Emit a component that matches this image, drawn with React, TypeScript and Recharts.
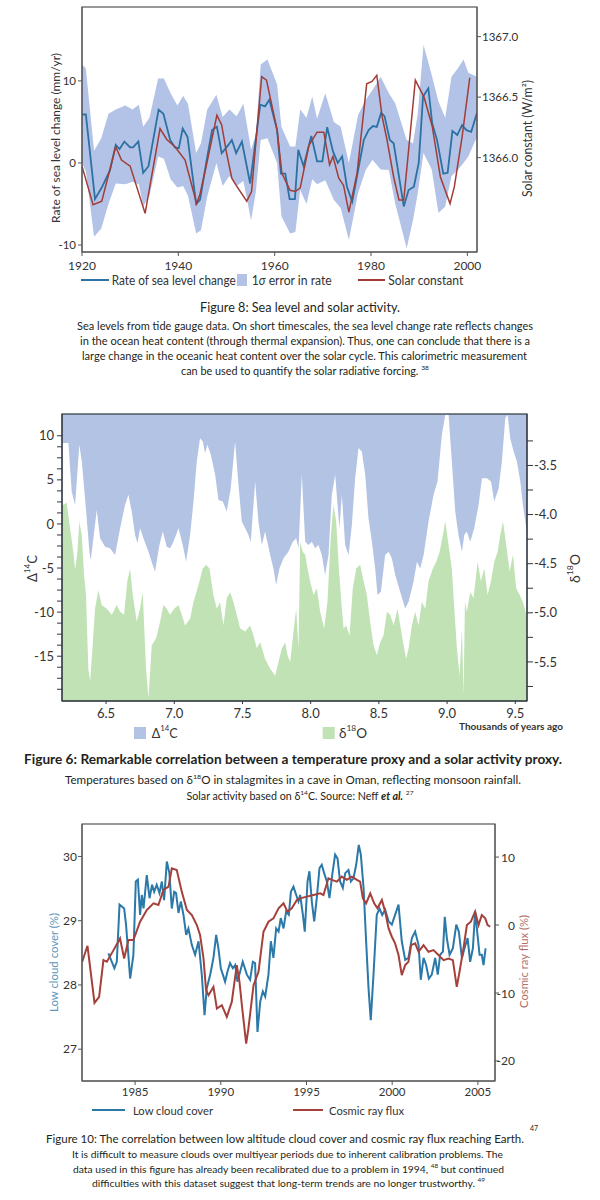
import React from 'react';
import { ComposedChart, Line, Area, XAxis, YAxis } from 'recharts';

const FONT = 'Lato, "Open Sans", "DejaVu Sans", sans-serif';
const INK = '#231f20';
const AX = '#333333';

// ---------------- Figure 8: sea level and solar activity ----------------
const seaYears = [1920,1920.8,1922.7,1924.1,1925.8,1927,1927.8,1928.8,1930,1930.6,1931.7,1932.7,1933.8,1935.9,1936.9,1938.3,1939.3,1940.1,1940.9,1941.9,1943.7,1944.5,1945.9,1947,1948,1949,1950.4,1951.1,1952,1953.2,1954.9,1957,1958,1958.9,1960.5,1961.3,1962.2,1963.1,1964.2,1964.9,1966,1967.6,1968.8,1969.9,1970.9,1972.1,1973.1,1974,1975,1976.1,1978.5,1979.5,1980.4,1981.2,1982.1,1982.8,1983.9,1984.7,1986.8,1987.8,1988.9,1989.9,1990.8,1991.9,1992.7,1993.7,1995,1995.9,1996.9,1997.9,1998.9,1999.8,2000.8,2002];
const seaRate = [5.9,5.9,-4.4,-3.0,-0.9,2.2,1.7,2.6,1.9,1.9,2.6,-1.2,-0.4,6.5,6.0,2.8,1.9,1.8,4.2,3.2,-5.0,-4.5,0.4,4.0,4.4,1.2,2.2,2.8,1.2,2.6,-2.5,7.1,6.9,7.7,4.0,-1.3,-1.3,-4.4,-4.4,1.6,-0.4,3.3,0.2,0.2,4.35,1.4,0,0.8,-2.9,-4.7,2.8,4.0,4.5,4.4,6.1,5.7,2.8,2.4,-5.3,-3.3,-2.9,0,8.1,9.1,4.8,2.8,-1.3,-1.2,3.9,3.4,4.6,4.0,3.8,6.1];
const bandYears = [1920,1920.8,1922.5,1924,1925.5,1927,1929,1930.5,1931.8,1932.7,1934,1935.8,1937,1938.4,1939.8,1941,1942,1943.7,1944.7,1946,1947.9,1949.2,1950.6,1952.1,1953.5,1955.1,1956.1,1957.1,1958.5,1960.5,1961.4,1963.2,1964.3,1965.3,1966.6,1967.8,1968.8,1970.5,1972.3,1973.7,1975.4,1977.3,1978.9,1980.3,1982,1983.7,1985,1987.4,1988.7,1989.7,1990.9,1992.6,1994,1995.4,1996.7,1998,1999.2,2000.2,2002];
const bandLow = [0,-1,-9,-8,-5,-2.5,-2.6,-2.3,-2.6,-5.3,-4,0.8,0.5,-2,-3,-2.8,-4,-8.6,-8.2,-4.1,0,-2.8,-1.6,-2.8,-2.2,-7,-3.5,2.8,3,0,-6.5,-8.6,-8.4,-3.3,-5,-2,-2.6,-2.1,-4.5,-5.5,-9.4,-3.7,-0.85,0.4,-0.8,-0.85,-4.9,-10.4,-7,-3.7,1.2,-0.8,-6.1,-5.3,-1.6,-0.85,0,0.8,3.2];
const bandHigh = [12,11.5,1.5,3,6,6.5,7,6.5,7.1,4.4,5.5,10.3,10.3,8.5,7,8.2,7.2,1.2,2.4,6.5,8.3,5.6,6.5,5.7,7.2,1.6,3.5,12,12.6,9.6,4.4,2,2,6.5,5.5,8.1,5.4,8.5,5,4.4,0,5.8,7.7,8.9,10.5,8.5,7.3,2.8,2.4,6,14.4,10.7,7.5,5.5,10.5,11.5,12.6,11,10.5];
const solarYears = [1920,1922.3,1924.1,1927,1928.2,1930,1933.1,1936.2,1937.6,1939.3,1941.4,1943.8,1944.5,1945.9,1948,1949,1950,1951.1,1952,1954.2,1955.2,1957.3,1958.3,1960.5,1961.5,1963.2,1964.3,1965.3,1967.1,1968.8,1970.2,1971.4,1972.1,1973.3,1974.3,1975.4,1977.1,1979.1,1980.2,1981.2,1982.3,1983.3,1984.7,1985.8,1986.8,1989.2,1991,1992.7,1994.4,1996.4,1997.3,1998.9,2000.5];
const solarConst = [1365.93,1365.61,1365.64,1366.09,1365.98,1365.93,1365.54,1366.24,1366.15,1366.09,1365.98,1365.62,1365.70,1365.95,1366.35,1366.27,1366.04,1365.83,1365.77,1365.64,1365.72,1366.67,1366.64,1366.23,1365.87,1365.73,1365.72,1365.75,1366.10,1366.21,1366.21,1365.94,1366.01,1365.83,1365.77,1365.55,1365.87,1366.61,1366.63,1366.68,1366.34,1366.15,1365.84,1365.65,1365.65,1366.64,1366.50,1366.26,1365.84,1365.62,1365.76,1366.17,1366.66];
const fig8XTicks = [1920, 1940, 1960, 1980, 2000];
const fig8LeftTicks = [-10, 0, 10];
const fig8RightTicks = [1366.0, 1366.5, 1367.0];

// ---------------- Figure 6: Δ14C and δ18O ----------------
const c14Years = [6.177,6.187,6.224,6.248,6.273,6.304,6.322,6.346,6.378,6.388,6.407,6.432,6.456,6.493,6.529,6.566,6.603,6.639,6.664,6.688,6.713,6.730,6.749,6.774,6.811,6.842,6.859,6.891,6.916,6.945,6.969,6.994,7.031,7.062,7.087,7.116,7.141,7.165,7.189,7.209,7.226,7.243,7.268,7.300,7.324,7.356,7.385,7.414,7.446,7.471,7.495,7.520,7.544,7.561,7.593,7.617,7.642,7.666,7.703,7.727,7.747,7.771,7.801,7.837,7.869,7.894,7.911,7.935,7.960,7.984,8.009,8.033,8.057,8.082,8.106,8.131,8.155,8.180,8.197,8.211,8.229,8.253,8.278,8.302,8.326,8.351,8.375,8.400,8.424,8.449,8.473,8.490,8.515,8.546,8.571,8.595,8.620,8.656,8.693,8.718,8.754,8.779,8.803,8.828,8.864,8.901,8.930,8.962,8.987,9.011,9.035,9.060,9.084,9.109,9.126,9.145,9.170,9.199,9.231,9.256,9.292,9.322,9.346,9.378,9.402,9.427,9.444,9.463,9.488,9.512,9.537,9.556,9.581,9.586];
const c14Values = [9.17,9.17,9.17,3.67,2.16,8.98,7.08,2.92,-3.14,-4.09,-1.63,1.59,-1.63,-2.58,-2.77,-3.52,-0.49,2.16,3.30,1.40,-1.25,-2.20,-0.49,-1.63,-3.14,-4.66,-5.42,-2.39,-0.87,-2.58,-2.77,-2.01,-0.49,-2.39,-4.28,-1.25,2.54,7.08,9.73,9.36,8.03,8.98,7.84,5.57,2.73,2.54,1.40,4.05,9.36,4.43,0.27,-0.49,-1.25,-2.01,4.81,0.27,-2.39,-0.87,-3.52,-5.04,-6.93,-5.04,-3.90,-3.14,-2.01,-1.63,-2.77,5.57,-2.01,-2.39,-2.01,-2.77,-2.39,-3.52,-5.80,-3.52,3.30,5.57,2.16,-0.49,3.30,-2.39,-3.52,-0.11,5.19,8.60,8.22,5.57,0.64,-2.01,-5.04,-8.07,-7.69,-3.52,-3.14,-3.90,-5.80,-7.69,-9.58,-8.83,-6.55,-4.28,-5.04,-3.52,0.27,3.30,4.81,10.11,12.39,12.39,7.08,1.40,-1.25,-3.14,-1.25,-0.87,-2.01,-0.49,2.16,5.19,5.19,4.81,2.54,4.05,7.08,12.01,12.39,9.73,8.22,7.08,4.81,2.16,-0.49,-1.0];
const o18Years = [6.177,6.187,6.211,6.236,6.260,6.273,6.290,6.304,6.322,6.339,6.353,6.370,6.383,6.402,6.419,6.444,6.468,6.505,6.542,6.578,6.603,6.632,6.656,6.676,6.696,6.725,6.749,6.769,6.793,6.811,6.835,6.867,6.896,6.921,6.945,6.969,6.999,7.031,7.055,7.079,7.116,7.141,7.177,7.209,7.233,7.258,7.287,7.312,7.336,7.361,7.385,7.410,7.434,7.458,7.483,7.520,7.556,7.581,7.605,7.630,7.666,7.703,7.740,7.764,7.789,7.813,7.830,7.850,7.874,7.894,7.911,7.923,7.943,7.960,7.977,7.996,8.021,8.045,8.070,8.099,8.123,8.148,8.167,8.187,8.207,8.221,8.241,8.260,8.285,8.309,8.334,8.363,8.388,8.412,8.436,8.461,8.485,8.510,8.534,8.559,8.583,8.608,8.637,8.669,8.700,8.718,8.742,8.766,8.791,8.815,8.840,8.864,8.896,8.921,8.945,8.969,8.987,9.011,9.035,9.053,9.072,9.092,9.109,9.121,9.131,9.145,9.170,9.194,9.224,9.248,9.273,9.297,9.322,9.346,9.370,9.390,9.410,9.434,9.459,9.483,9.507,9.532,9.556,9.581,9.586];
const o18Values = [-3.90,-3.90,-3.88,-4.14,-4.38,-4.56,-4.38,-4.07,-4.21,-4.62,-4.82,-5.57,-5.70,-5.33,-4.96,-4.77,-4.92,-4.96,-5.02,-4.92,-4.99,-5.02,-4.68,-4.55,-4.82,-5.09,-4.96,-4.79,-5.57,-5.87,-5.33,-5.26,-5.09,-4.92,-4.96,-5.02,-4.96,-4.92,-5.02,-5.13,-5.06,-4.89,-4.72,-4.55,-4.51,-4.55,-4.82,-4.96,-4.89,-5.13,-4.85,-4.79,-4.89,-5.02,-5.16,-5.19,-5.13,-5.23,-5.36,-5.30,-5.47,-5.57,-5.64,-5.50,-5.36,-5.30,-5.43,-5.50,-5.19,-4.96,-5.36,-4.28,-4.38,-4.41,-4.55,-4.68,-4.82,-4.75,-4.99,-5.16,-4.89,-4.21,-3.90,-4.07,-4.55,-4.82,-5.16,-5.13,-5.23,-4.75,-4.55,-4.51,-4.68,-4.82,-5.09,-5.33,-5.43,-5.30,-5.23,-4.99,-5.02,-5.13,-4.96,-5.23,-5.47,-5.36,-5.13,-4.99,-5.13,-4.89,-4.96,-4.68,-4.55,-4.48,-4.38,-4.21,-4.07,-4.31,-4.55,-4.96,-5.36,-5.64,-5.16,-5.84,-4.89,-4.99,-4.79,-4.85,-4.48,-4.68,-4.55,-4.82,-4.68,-4.48,-4.38,-4.21,-4.07,-4.31,-4.58,-4.41,-4.75,-4.82,-4.89,-5.02,-5.05];
const fig6XTicks = [6.5, 7.0, 7.5, 8.0, 8.5, 9.0, 9.5];
const c14Ticks = [-18.75,-17.5,-16.25,-15,-13.75,-12.5,-11.25,-10,-8.75,-7.5,-6.25,-5,-3.75,-2.5,-1.25,0,1.25,2.5,3.75,5,6.25,7.5,8.75,10];
const o18Ticks = [-5.75,-5.5,-5.25,-5.0,-4.75,-4.5,-4.25,-4.0,-3.75,-3.5,-3.25];

// ---------------- Figure 10: low cloud cover and cosmic rays ----------------
const cloudYears = [1983.44,1983.64,1983.79,1983.93,1984.09,1984.36,1984.47,1984.71,1984.90,1985.04,1985.16,1985.29,1985.39,1985.49,1985.68,1985.84,1985.99,1986.11,1986.26,1986.42,1986.56,1986.69,1986.85,1987.00,1987.14,1987.28,1987.39,1987.53,1987.67,1987.82,1987.98,1988.11,1988.31,1988.50,1988.70,1988.89,1989.05,1989.18,1989.38,1989.57,1989.73,1989.86,1990.00,1990.12,1990.25,1990.39,1990.54,1990.70,1990.84,1990.97,1991.13,1991.28,1991.52,1991.71,1991.87,1992.00,1992.14,1992.30,1992.45,1992.59,1992.78,1992.92,1993.07,1993.23,1993.37,1993.50,1993.66,1993.81,1993.97,1994.09,1994.24,1994.40,1994.53,1994.63,1994.79,1994.90,1995.06,1995.17,1995.31,1995.45,1995.60,1995.76,1995.89,1996.03,1996.19,1996.34,1996.50,1996.67,1996.81,1996.96,1997.12,1997.26,1997.45,1997.59,1997.74,1997.90,1998.05,1998.17,1998.33,1998.48,1998.62,1998.75,1998.91,1999.10,1999.26,1999.42,1999.59,1999.79,1999.98,2000.17,2000.37,2000.56,2000.76,2000.95,2001.15,2001.34,2001.54,2001.67,2001.83,2001.98,2002.14,2002.31,2002.51,2002.66,2002.80,2002.96,2003.07,2003.19,2003.35,2003.54,2003.74,2003.89,2004.07,2004.22,2004.40,2004.55,2004.71,2004.84,2004.98,2005.10,2005.23,2005.33,2005.45];
const cloudCover = [28.49,28.36,28.26,28.36,29.25,29.19,28.94,28.10,28.47,29.61,29.64,29.09,29.40,29.19,29.71,29.35,29.56,29.45,29.56,29.43,29.61,29.32,29.92,29.74,29.19,29.45,29.43,29.12,29.30,29.09,28.78,28.88,28.62,28.47,28.68,28.16,27.53,27.95,28.16,28.42,28.78,28.57,28.26,28.16,28.05,28.21,28.34,28.26,28.31,28.05,28.21,28.36,28.16,28.08,28.36,28.34,27.27,27.74,27.90,27.82,28.16,28.68,28.42,28.88,28.83,29.04,28.88,29.14,29.09,29.45,29.53,29.40,29.30,29.40,29.09,28.83,29.61,29.77,29.30,28.99,29.35,29.82,29.87,29.74,29.61,29.35,29.71,30.03,29.97,29.61,29.51,29.74,29.79,29.61,29.66,29.87,30.18,30.03,29.51,28.68,27.95,27.45,28.16,29.09,29.19,29.09,29.17,28.99,28.94,29.09,29.25,28.68,28.39,28.42,28.73,28.83,28.62,28.08,28.42,28.31,28.10,28.16,28.42,28.16,28.47,28.52,29.06,28.73,28.47,28.57,28.94,28.83,28.42,28.57,28.73,28.36,28.57,29.14,28.78,28.47,28.47,28.31,28.57];
const cosmicYears = [1981.91,1982.22,1982.63,1982.90,1983.15,1983.35,1983.74,1984.12,1984.36,1984.61,1984.90,1985.29,1985.68,1986.07,1986.36,1986.65,1986.95,1987.14,1987.43,1987.72,1988.02,1988.31,1988.60,1988.79,1988.99,1989.14,1989.28,1989.57,1989.77,1990.06,1990.35,1990.64,1990.93,1991.09,1991.23,1991.48,1991.61,1991.91,1992.20,1992.49,1992.78,1993.07,1993.37,1993.66,1993.89,1994.14,1994.44,1994.63,1995.02,1995.41,1995.80,1995.99,1996.28,1996.48,1996.77,1997.06,1997.35,1997.65,1997.94,1998.13,1998.29,1998.48,1998.72,1998.95,1999.14,1999.40,1999.59,1999.79,1999.98,2000.17,2000.37,2000.56,2000.76,2000.95,2001.11,2001.34,2001.54,2001.83,2002.12,2002.41,2002.70,2003.00,2003.29,2003.54,2003.77,2003.93,2004.16,2004.36,2004.59,2004.84,2005.04,2005.23,2005.43,2005.57,2005.72];
const cosmicFlux = [-5.41,-3.05,-11.46,-10.57,-5.16,-5.41,-3.69,-1.97,-4.92,-2.21,-2.21,0.49,2.21,3.20,2.95,5.16,5.65,8.36,8.11,4.92,2.21,1.47,0,-1.47,-4.92,-9.59,-10.32,-9.10,-12.29,-11.80,-13.52,-11.31,-5.90,-8.36,-11.80,-17.45,-15.24,-8.85,-6.88,-0.98,0.49,0.98,2.46,3.20,1.97,2.46,3.69,3.93,4.18,4.42,4.67,4.42,6.88,6.64,6.39,7.13,6.64,7.13,6.64,6.39,3.93,3.20,4.67,3.20,2.46,3.69,1.97,-0.49,-1.72,-2.70,-4.42,-7.37,-5.90,-5.41,-2.95,-2.70,-3.93,-2.95,-3.93,-3.69,-4.42,-5.16,-4.92,-5.16,-9.10,-6.88,-3.44,0,0.49,1.97,0,1.47,0.98,0,-0.25];
const fig10XTicks = [1985, 1990, 1995, 2000, 2005];
const fig10LeftTicks = [27, 28, 29, 30];
const fig10RightTicks = [-20, -10, 0, 10];

const pairs = (xs: number[], ys: number[]) => xs.map((t, i) => ({ t, v: ys[i] }));

type TP = {
  x: number; y: number; w?: number; size: number; color?: string; weight?: number;
  anchor?: 'start' | 'middle' | 'end'; rot?: boolean; children: React.ReactNode;
};
const T = ({ x, y, w, size, color = INK, weight = 400, anchor = 'middle', rot = false, children }: TP) => (
  <text
    x={x}
    y={y}
    fontSize={size}
    fill={color}
    fontWeight={weight}
    fontFamily={FONT}
    textAnchor={anchor}
    dominantBaseline="central"
    textLength={w}
    lengthAdjust={w ? 'spacingAndGlyphs' : undefined}
    transform={rot ? `rotate(-90 ${x} ${y})` : undefined}
  >
    {children}
  </text>
);

const Sup = ({ s, size }: { s: string; size: number }) => (
  <tspan dy={-size * 0.38} fontSize={size * 0.62}>{s}</tspan>
);

function Fig8Chart() {
  const band = bandYears.map((t, i) => ({ t, r: [bandLow[i], bandHigh[i]] }));
  const sea = pairs(seaYears, seaRate);
  const solar = pairs(solarYears, solarConst);
  const tick = { fontSize: 11.5, fill: AX, fontFamily: FONT };
  return (
    <ComposedChart width={600} height={300} margin={{ top: 7, right: 63, bottom: 18, left: 22 }}>
      <XAxis dataKey="t" type="number" domain={[1920, 2002]} allowDataOverflow ticks={fig8XTicks} interval={0}
        tickSize={4} tickMargin={5} height={30} stroke="#555" tick={{ ...tick, fontSize: 12 }} />
      <YAxis yAxisId="l" type="number" domain={[-10.85, 19]} allowDataOverflow ticks={fig8LeftTicks} interval={0}
        width={60} tickSize={4} tickMargin={2} stroke="#555" tick={tick} />
      <YAxis yAxisId="r" orientation="right" type="number" domain={[1365.22, 1367.245]} allowDataOverflow
        ticks={fig8RightTicks} interval={0} width={60} tickSize={4} tickMargin={1} stroke="#555" tick={tick}
        tickFormatter={(v: number) => v.toFixed(1)} />
      <Area yAxisId="l" data={band} dataKey="r" type="linear" stroke="none" fill="#b3c3e7" fillOpacity={1}
        isAnimationActive={false} />
      <Line yAxisId="l" data={sea} dataKey="v" type="linear" stroke="#2b72a2" strokeWidth={1.8} dot={false}
        isAnimationActive={false} />
      <Line yAxisId="r" data={solar} dataKey="v" type="linear" stroke="#a23c37" strokeWidth={1.5} dot={false}
        isAnimationActive={false} />
    </ComposedChart>
  );
}

function Fig6Chart() {
  const c14 = pairs(c14Years, c14Values);
  const o18 = pairs(o18Years, o18Values);
  const tick = { fontSize: 13, fill: AX, fontFamily: FONT };
  return (
    <ComposedChart width={600} height={360} margin={{ top: 34, right: 28, bottom: 14, left: 22 }}>
      <XAxis dataKey="t" type="number" domain={[6.177, 9.586]} allowDataOverflow ticks={fig6XTicks} interval={0}
        tickSize={3} tickMargin={5} height={25} stroke="#2f3640" tick={tick}
        tickFormatter={(v: number) => v.toFixed(1)} />
      <YAxis yAxisId="l" type="number" domain={[-20.08, 12.47]} allowDataOverflow ticks={c14Ticks} interval={0}
        width={40} tickSize={5} tickMargin={3} stroke="#2f3640" tick={tick}
        tickFormatter={(v: number) => (Math.abs(v % 5) < 1e-9 ? String(v) : '')} />
      <YAxis yAxisId="r" orientation="right" type="number" domain={[-5.898, -2.976]} allowDataOverflow
        ticks={o18Ticks} interval={0} width={45} tickSize={6} tickMargin={1} stroke="#2f3640" tick={tick}
        tickFormatter={(v: number) => (Math.abs(v * 2 - Math.round(v * 2)) < 1e-9 ? v.toFixed(1) : '')} />
      <Area yAxisId="l" data={c14} dataKey="v" type="linear" baseValue="dataMax" stroke="none" fill="#b2c3e3"
        fillOpacity={1} isAnimationActive={false} />
      <Area yAxisId="r" data={o18} dataKey="v" type="linear" baseValue="dataMin" stroke="none" fill="#c0e2b5"
        fillOpacity={1} isAnimationActive={false} />
    </ComposedChart>
  );
}

const RightTick10 = (p: any) => (
  <text x={p.x + 14} y={p.y} textAnchor="end" dominantBaseline="central" fontSize={12} fill={AX} fontFamily={FONT}>
    {p.payload.value}
  </text>
);

function Fig10Chart() {
  const cloud = pairs(cloudYears, cloudCover);
  const cosmic = pairs(cosmicYears, cosmicFlux);
  const tick = { fontSize: 12, fill: AX, fontFamily: FONT };
  return (
    <ComposedChart width={600} height={320} margin={{ top: 24, right: 65, bottom: 14, left: 32 }}>
      <XAxis dataKey="t" type="number" domain={[1981.9, 2006.0]} allowDataOverflow ticks={fig10XTicks} interval={0}
        tickSize={4} tickMargin={3} height={25} stroke="#555" tick={{ ...tick, fontSize: 11.5 }} />
      <YAxis yAxisId="l" type="number" domain={[26.505, 30.505]} allowDataOverflow ticks={fig10LeftTicks} interval={0}
        width={50} tickSize={4} tickMargin={1} stroke="#555" tick={tick} />
      <YAxis yAxisId="r" orientation="right" type="number" domain={[-22.95, 14.87]} allowDataOverflow
        ticks={fig10RightTicks} interval={0} width={40} tickSize={4} tickMargin={2} stroke="#555" tick={RightTick10} />
      <Line yAxisId="l" data={cloud} dataKey="v" type="linear" stroke="#2a79a9" strokeWidth={2} dot={false}
        isAnimationActive={false} />
      <Line yAxisId="r" data={cosmic} dataKey="v" type="linear" stroke="#a5403b" strokeWidth={2} dot={false}
        isAnimationActive={false} />
    </ComposedChart>
  );
}

function Overlay() {
  return (
    <svg width={600} height={1200} style={{ position: 'absolute', left: 0, top: 0, pointerEvents: 'none' }}>
      {/* frames */}
      <rect x={82} y={7} width={395} height={245} fill="none" stroke="#555" strokeWidth={1.2} />
      <rect x={62} y={414} width={465} height={287} fill="none" stroke="#2f3640" strokeWidth={1.2} />
      <rect x={82} y={824} width={413} height={257} fill="none" stroke="#555" strokeWidth={1.2} />

      {/* Figure 8 axis titles */}
      <T x={55} y={138} w={170} size={12} rot color="#333">Rate of sea level change (mm/yr)</T>
      <T x={527} y={138.5} w={117} size={12.5} rot color="#333">Solar constant (W/m²)</T>
      {/* Figure 8 legend */}
      <line x1={81} y1={280} x2={109} y2={280} stroke="#2b72a2" strokeWidth={2} />
      <T x={111.7} y={280} w={124} size={12.5} anchor="start" color="#333">Rate of sea level change</T>
      <rect x={237} y={274} width={10} height={12} fill="#b3c3e7" />
      <T x={251.7} y={280} w={80} size={12.5} anchor="start" color="#333">
        1<tspan fontStyle="italic">σ</tspan> error in rate
      </T>
      <line x1={358} y1={280} x2={385} y2={280} stroke="#a23c37" strokeWidth={2} />
      <T x={388.3} y={280} w={75} size={12.5} anchor="start" color="#333">Solar constant</T>
      {/* Figure 8 caption */}
      <T x={300} y={307} w={200} size={13}>Figure 8: Sea level and solar activity.</T>
      <T x={305} y={326} w={456} size={10.5}>Sea levels from tide gauge data. On short timescales, the sea level change rate reflects changes</T>
      <T x={305} y={341} w={450} size={10.5}>in the ocean heat content (through thermal expansion). Thus, one can conclude that there is a</T>
      <T x={304.5} y={356} w={445} size={10.5}>large change in the oceanic heat content over the solar cycle. This calorimetric measurement</T>
      <T x={305} y={371} w={248} size={10.5}>
        can be used to quantify the solar radiative forcing. <Sup s="38" size={10.5} />
      </T>

      {/* Figure 6 axis titles */}
      <T x={32} y={568.5} w={27} size={13} rot color="#333">
        Δ<Sup s="14" size={13} /><tspan dy={13 * 0.38}>C</tspan>
      </T>
      <T x={575} y={568.5} w={29} size={13} rot color="#333">
        δ<Sup s="18" size={13} /><tspan dy={13 * 0.38}>O</tspan>
      </T>
      <T x={511} y={726} w={104} size={9.5} weight={700} color="#333">Thousands of years ago</T>
      {/* Figure 6 legend */}
      <rect x={134} y={727} width={12} height={12} fill="#b2c3e3" />
      <T x={151.7} y={733} w={26} size={13} anchor="start" color="#333">
        Δ<Sup s="14" size={13} /><tspan dy={13 * 0.38}>C</tspan>
      </T>
      <rect x={322.7} y={727} width={12} height={12} fill="#c0e2b5" />
      <T x={339} y={733} w={28} size={13} anchor="start" color="#333">
        δ<Sup s="18" size={13} /><tspan dy={13 * 0.38}>O</tspan>
      </T>
      {/* Figure 6 caption */}
      <T x={293} y={758} w={538} size={14} weight={700}>
        Figure 6: Remarkable correlation between a temperature proxy and a solar activity proxy.
      </T>
      <T x={293} y={780} w={456} size={10.5}>
        Temperatures based on δ<Sup s="18" size={10.5} /><tspan dy={10.5 * 0.38}>O in stalagmites in a cave in Oman, reflecting monsoon rainfall.</tspan>
      </T>
      <T x={300} y={795.5} w={227} size={10.5}>
        Solar activity based on δ<Sup s="14" size={10.5} /><tspan dy={10.5 * 0.38}>C. Source: Neff </tspan>
        <tspan fontWeight={700} fontStyle="italic">et al.</tspan> <Sup s="27" size={10.5} />
      </T>

      {/* Figure 10 axis titles */}
      <T x={53.5} y={962.5} w={99} size={12} rot color="#5a96be">Low cloud cover (%)</T>
      <T x={523.5} y={961.5} w={93} size={12} rot color="#b46e69">Cosmic ray flux (%)</T>
      {/* Figure 10 legend */}
      <line x1={92} y1={1110} x2={125} y2={1110} stroke="#2a79a9" strokeWidth={2} />
      <T x={133} y={1110} w={80} size={12} anchor="start" color="#333">Low cloud cover</T>
      <line x1={293} y1={1110} x2={323} y2={1110} stroke="#a5403b" strokeWidth={2} />
      <T x={329} y={1110} w={75} size={12} anchor="start" color="#333">Cosmic ray flux</T>
      {/* Figure 10 caption */}
      <T x={285} y={1138} w={478} size={11.5}>
        Figure 10: The correlation between low altitude cloud cover and cosmic ray flux reaching Earth.
      </T>
      <T x={530} y={1127.5} size={7} anchor="start">47</T>
      <T x={287.5} y={1154} w={431} size={10}>
        It is difficult to measure clouds over multiyear periods due to inherent calibration problems. The
      </T>
      <T x={288.5} y={1168.5} w={431} size={10}>
        data used in this figure has already been recalibrated due to a problem in 1994, <Sup s="48" size={10} />
        <tspan dy={10 * 0.38}> but continued</tspan>
      </T>
      <T x={288.5} y={1183} w={393} size={10}>
        difficulties with this dataset suggest that long-term trends are no longer trustworthy. <Sup s="49" size={10} />
      </T>
    </svg>
  );
}

export default function App() {
  return (
    <div style={{ position: 'absolute', left: 0, top: 0, width: 600, height: 1200, background: '#fff', overflow: 'hidden', fontFamily: FONT }}>
      <div style={{ position: 'absolute', left: 0, top: 0 }}>
        <Fig8Chart />
      </div>
      <div style={{ position: 'absolute', left: 0, top: 380 }}>
        <Fig6Chart />
      </div>
      <div style={{ position: 'absolute', left: 0, top: 800 }}>
        <Fig10Chart />
      </div>
      <Overlay />
    </div>
  );
}
